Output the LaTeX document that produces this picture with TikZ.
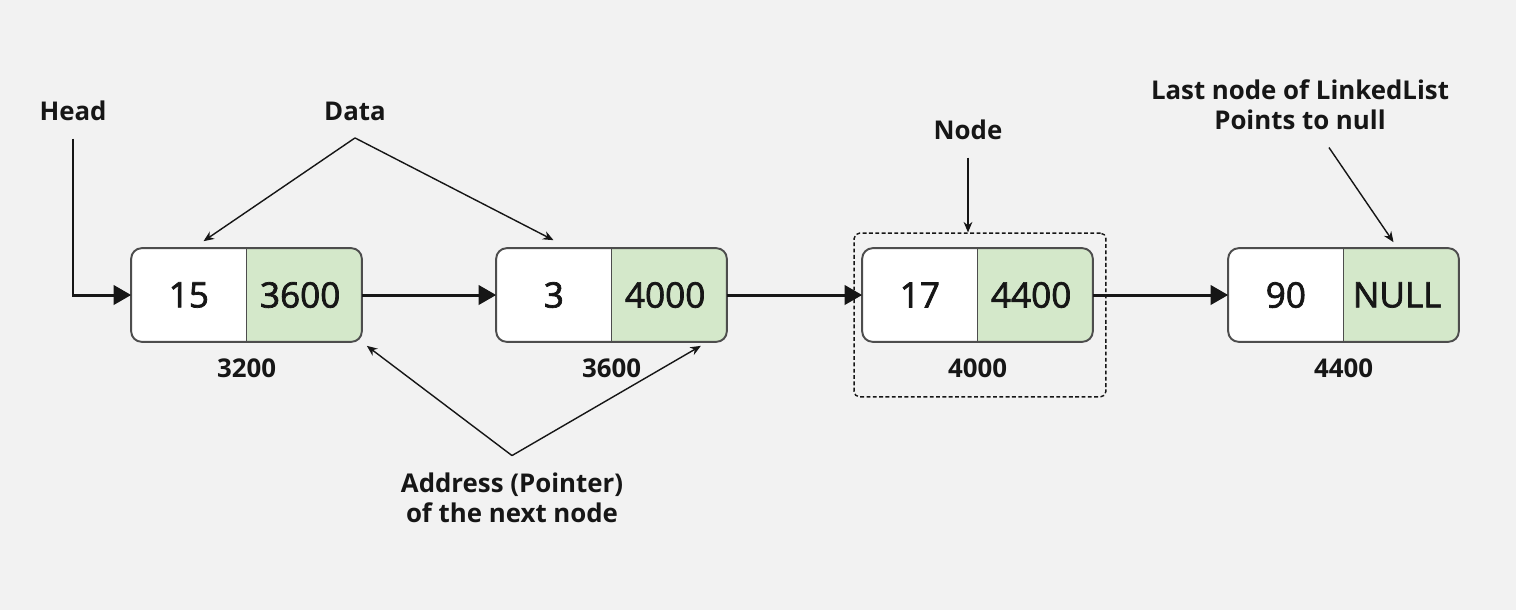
\documentclass[tikz,border=0pt]{standalone}
\usepackage{fontspec}
\setmainfont{Open Sans}
\newfontfamily\valfont{Open Sans}[FakeBold=2]
\usetikzlibrary{positioning,arrows.meta,fit,calc}
\definecolor{llBg}{HTML}{F2F2F2}
\definecolor{llGreen}{HTML}{D4E8CA}
\definecolor{llBorder}{HTML}{4D4D4D}
\definecolor{llInk}{HTML}{161616}

\begin{document}
\begin{tikzpicture}[
  x=0.02cm, y=-0.02cm,
  cellbox/.style={rounded corners=6pt, fill=white, inner sep=0pt,
                  minimum width=4.6cm, minimum height=1.86cm},
  cellline/.style={draw=llBorder, line width=1.1pt},
  val/.style={font=\valfont\fontsize{20}{24}\selectfont, text=llInk, inner sep=0pt},
  addr/.style={font=\fontsize{14.7}{18}\selectfont\bfseries, text=llInk, inner sep=0pt},
  ltitle/.style={font=\fontsize{14.7}{17}\selectfont\bfseries, text=llInk, align=center,
                 inner sep=2pt, outer sep=8pt},
  group/.style={draw=llInk, line width=0.8pt, dash pattern=on 2.2pt off 1.4pt,
                rounded corners=3pt, inner sep=0pt},
  link/.style={-{Triangle[length=10pt,width=11pt]}, line width=1.7pt, draw=llInk},
  hint/.style={-{Stealth[length=6pt,width=5pt]}, line width=0.8pt, draw=llInk},
]

% Background
\fill[llBg] (0,0) rectangle (1516,610);

% List nodes
\foreach \i/\cx/\d/\p/\a in {1/246.5/15/3600/3200, 2/611.5/3/4000/3600,
                             3/977.5/17/4400/4000, 4/1343.5/90/NULL/4400}{
  \node[cellbox] (n\i) at (\cx,295) {};
  \begin{scope}
    \clip[rounded corners=6pt] (n\i.south west) rectangle (n\i.north east);
    \fill[llGreen] (n\i.south) rectangle (n\i.north east);
  \end{scope}
  \draw[cellline] (n\i.north) -- (n\i.south);
  \draw[cellline, rounded corners=6pt] (n\i.south west) rectangle (n\i.north east);
  \node[val] (d\i) at ($(n\i.center)!0.5!(n\i.west)$) {\d};
  \node[val] (p\i) at ($(n\i.center)!0.5!(n\i.east)+(-4,0)$) {\p};
  \node[addr] (a\i) at ($(n\i.south)+(0,26)$) {\a};
}

% Node group
\node[group, fit={($(n3.north west)+(-8,-15)$) ($(n3.south east)+(13,55)$)}] (grp) {};

% Labels
\node[ltitle] (head)  at (73,111)   {Head};
\node[ltitle] (data)  at (355,111)  {Data};
\node[ltitle] (nodel) at (968,130)  {Node};
\node[ltitle] (last)  at (1300,105) {Last node of LinkedList\\Points to null};
\node[ltitle] (ptr)   at (512,498)  {Address (Pointer)\\of the next node};

% Pointers
\draw[link] (head.south) |- (n1.west);
\foreach \i/\j in {1/2,2/3,3/4}{ \draw[link] (n\i.east) -- (n\j.west); }

% Hints
\draw[hint] (data.south) -- ($(n1.north)+(-43,-7)$);
\draw[hint] (data.south) -- ($(n2.north)+(-58,-8)$);
\draw[hint] (ptr.north) -- ($(n1.south east)+(5,4)$);
\draw[hint] (ptr.north) -- ($(n2.south east)+(-26,4)$);
\draw[hint] (nodel.south) -- (nodel.south |- grp.north);
\draw[hint] (last) -- ($(n4.north)+(50,-6)$);

\end{tikzpicture}
\end{document}
